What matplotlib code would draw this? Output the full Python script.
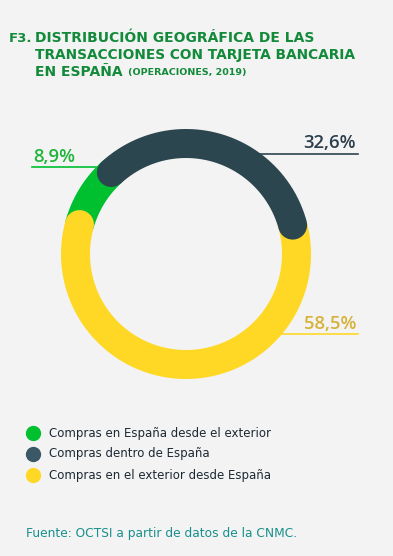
import numpy as np
import matplotlib
matplotlib.use('Agg')
from matplotlib import pyplot as plt

# data
categories = ['Compras en España desde el exterior',
              'Compras dentro de España',
              'Compras en el exterior desde España']
values = [8.9, 32.6, 58.5]
labels = ['8,9%', '32,6%', '58,5%']
colors = ['#00c030', '#2c4650', '#ffd826']
legend_colors = ['#00c030', '#3b5866', '#ffd826']
text_colors = ['#1fb53a', '#2c3e4c', '#d6b23a']

bg = '#f3f3f3'
W, H = 393, 556
fig = plt.figure(figsize=(W / 100, H / 100), dpi=100, facecolor=bg)

# title
tc = '#128a3a'
fig.text(32 / W, 1 - 38 / H, 'F3.', color=tc, fontsize=9.5, fontweight='bold',
         family='DejaVu Sans', va='center', ha='right')
fig.text(35 / W, 1 - 38 / H, 'DISTRIBUCIÓN GEOGRÁFICA DE LAS', color=tc, fontsize=10,
         fontweight='bold', family='DejaVu Sans', va='center')
fig.text(35 / W, 1 - 55 / H, 'TRANSACCIONES CON TARJETA BANCARIA', color=tc, fontsize=9.9,
         fontweight='bold', family='DejaVu Sans', va='center')
t = fig.text(35 / W, 1 - 72 / H, 'EN ESPAÑA ', color=tc, fontsize=10,
             fontweight='bold', family='DejaVu Sans', va='center')
fig.canvas.draw()
bb = t.get_window_extent()
fig.text(bb.x1 / W, 1 - 72 / H, '(OPERACIONES, 2019)', color=tc, fontsize=6.8,
         fontweight='bold', family='DejaVu Sans', va='center')

# donut (polar axes, clockwise order: dark, yellow, green)
cx, cy, rpx = 186, 254, 110.5
rmax = 1.3
side = 2 * rpx * rmax
ax = fig.add_axes([(cx - side / 2) / W, (H - cy - side / 2) / H, side / W, side / H],
                  projection='polar')
ax.set_facecolor(bg)
ax.set_ylim(0, rmax)
ax.axis('off')

start = 132.5
order = [1, 2, 0]
bounds = {}
a = start
for i in order:
    span = values[i] / 100 * 360
    bounds[i] = (a, a - span)
    a -= span

lw = 29 * 72 / 100
for i in [0, 2, 1]:
    a0, a1 = bounds[i]
    th = np.radians(np.linspace(a0, a1, 200))
    ax.plot(th, np.ones_like(th), color=colors[i], lw=lw, solid_capstyle='round')

# percentage labels with leader lines
lab_pos = [(33, 157, 'left', 32, 96, 167), (356, 143, 'right', 258, 358, 154),
           (356, 324, 'right', 282, 358, 334)]
for i, (x, y, ha, x0, x1, yl) in enumerate(lab_pos):
    fig.text(x / W, 1 - y / H, labels[i], color=text_colors[i], fontsize=13.3,
             fontweight=600, family=['Open Sans', 'DejaVu Sans'], ha=ha, va='center')
    fig.add_artist(plt.Line2D([x0 / W, x1 / W], [1 - yl / H, 1 - yl / H],
                              color=colors[i], lw=1.2))

# legend
for i, cat in enumerate(categories):
    y = 433 + i * 21
    fig.add_artist(plt.Line2D([33 / W], [1 - y / H], marker='o', markersize=10,
                              color=legend_colors[i], lw=0))
    fig.text(49 / W, 1 - y / H, cat, color='#1c2833', fontsize=8.5,
             family='DejaVu Sans', va='center')

fig.text(26 / W, 1 - 534 / H, 'Fuente: OCTSI a partir de datos de la CNMC.',
         color='#178f8c', fontsize=8.8, family='DejaVu Sans', va='center')

fig.savefig('out.png', dpi=100, facecolor=bg)
